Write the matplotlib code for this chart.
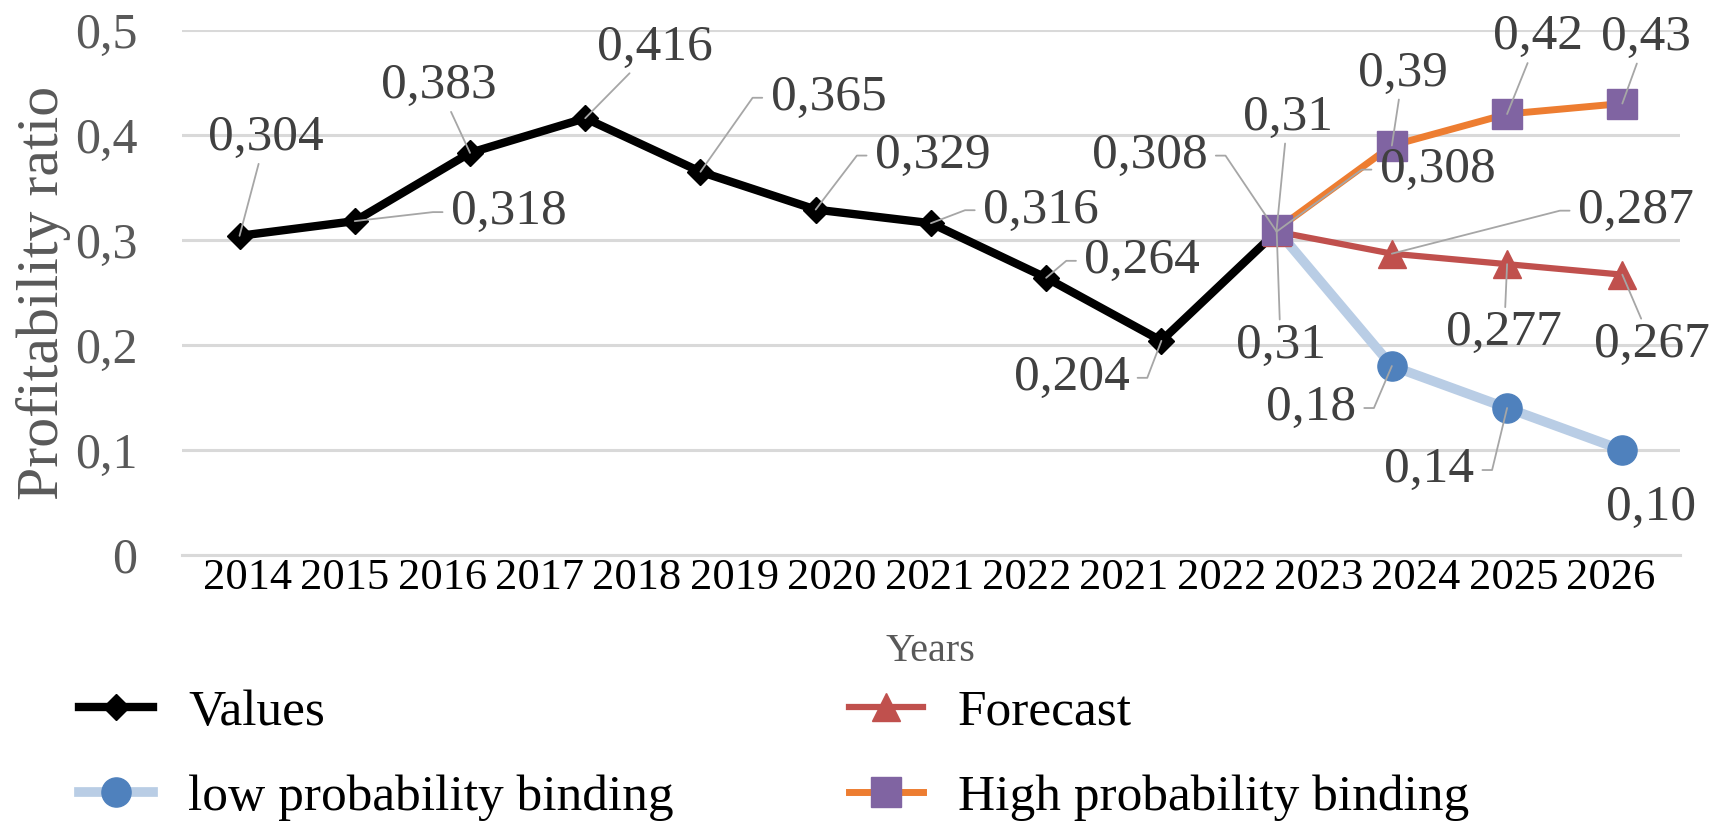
import numpy as np
import matplotlib
matplotlib.use("Agg")
import matplotlib.pyplot as plt
from matplotlib.lines import Line2D
from matplotlib.ticker import FuncFormatter

plt.rcParams['font.family'] = ['Liberation Serif', 'DejaVu Serif']

# category labels printed under the axis (as in the source chart)
tick_labels = ["2014", "2015", "2016", "2017", "2018", "2019", "2020", "2021",
               "2022", "2021", "2022", "2023", "2024", "2025", "2026"]

# series values
values = [0.304, 0.318, 0.383, 0.416, 0.365, 0.329, 0.316, 0.264, 0.204, 0.308]
forecast = [0.308, 0.287, 0.277, 0.267]
low_prob = [0.31, 0.18, 0.14, 0.10]
high_prob = [0.31, 0.39, 0.42, 0.43]

n_cat = 13
x_values = np.arange(len(values))
x_fc = np.arange(len(values) - 1, n_cat)

# label placement: offset (px, image direction) of label centre and leader type
values_lab = [(26, -98, "S"), (154, -9, "L"), (-31, -67, "S"), (70, -71, "S"), (128, -74, "L"),
              (117, -54, "L"), (110, -13, "L"), (96, -17, "L"), (-90, 37, "R"), (-127, -76, "R")]
fc_lab = [(161, -62, "L"), (244, -43, "L"), (-3, 69, "S"), (30, 70, "S")]
low_lab = [(4, 116, "S"), (-81, 42, "R"), (-78, 62, "R"), (29, 58, "N")]
high_lab = [(11, -112, "S"), (11, -72, "S"), (31, -77, "S"), (24, -66, "S")]

C_VAL = "black"
C_FC = "#C0504D"
C_LOW_LINE = "#B9CDE5"
C_LOW_MK = "#4F81BD"
C_HIGH_LINE = "#ED7D31"
C_HIGH_MK = "#8064A2"
C_GRID = "#D9D9D9"
C_LEAD = "#A6A6A6"
C_LAB = "#404040"
C_AX = "#595959"

fig = plt.figure(figsize=(17.13, 8.36), dpi=100)
ax = fig.add_axes([0.1062, 0.3361, 0.8745, 0.628])

ax.plot(x_values, values, color=C_VAL, lw=6, marker="D", ms=13, mfc=C_VAL, mec=C_VAL, zorder=3)
ax.plot(x_fc, low_prob, color=C_LOW_LINE, lw=7, marker="o", ms=21, mfc=C_LOW_MK, mec=C_LOW_MK, zorder=4)
ax.plot(x_fc, forecast, color=C_FC, lw=4.5, marker="^", ms=20, mfc=C_FC, mec=C_FC, zorder=5)
ax.plot(x_fc, high_prob, color=C_HIGH_LINE, lw=5, marker="s", ms=21, mfc=C_HIGH_MK, mec=C_HIGH_MK, zorder=6)


def put_labels(xs, ys, fmt, specs):
    for x, y, (dx, dy, kind) in zip(xs, ys, specs):
        txt = fmt.format(y).replace(".", ",")
        kw = dict(xy=(x, y), xytext=(dx, -dy), textcoords="offset pixels", ha="center", va="center",
                  fontsize=37, color=C_LAB, zorder=10, annotation_clip=False)
        if kind == "S":
            kw["arrowprops"] = dict(arrowstyle="-", color=C_LEAD, lw=1.3, shrinkA=0, shrinkB=0)
        elif kind in ("L", "R"):
            side = 0 if kind == "L" else 1
            ang = 180 if kind == "L" else 0
            kw["arrowprops"] = dict(arrowstyle="-", color=C_LEAD, lw=1.3, shrinkA=6, shrinkB=0,
                                    patchA=None, relpos=(side, 0.5),
                                    connectionstyle=f"arc,angleA={ang},armA=18,angleB=0,armB=0,rad=0")
        ax.annotate(txt, **kw)


put_labels(x_values, values, "{:.3f}", values_lab)
put_labels(x_fc, forecast, "{:.3f}", fc_lab)
put_labels(x_fc, low_prob, "{:.2f}", low_lab)
put_labels(x_fc, high_prob, "{:.2f}", high_lab)

ax.set_xlim(-0.5, n_cat - 0.5)
ax.set_ylim(0, 0.5)
ax.set_yticks(np.arange(0, 0.51, 0.1))
ax.yaxis.set_major_formatter(FuncFormatter(lambda v, p: "0" if abs(v) < 1e-9 else f"{v:.1f}".replace(".", ",")))
ax.set_xticks(np.linspace(0.07, 11.9, len(tick_labels)))
ax.set_xticklabels(tick_labels)
ax.tick_params(axis="y", length=0, pad=32, labelsize=36, labelcolor=C_AX)
ax.tick_params(axis="x", length=0, pad=2, labelsize=32, labelcolor="black")
ax.yaxis.grid(True, color=C_GRID, lw=2.2)
ax.set_axisbelow(True)
for s in ["top", "right", "left"]:
    ax.spines[s].set_visible(False)
ax.spines["bottom"].set_color(C_GRID)
ax.spines["bottom"].set_linewidth(2.2)

ax.set_xlabel("Years", fontsize=29, color=C_AX, labelpad=25)
ax.set_ylabel("Profitability ratio", fontsize=43, color=C_AX, labelpad=3)

handles = [
    Line2D([], [], color=C_VAL, lw=6, marker="D", ms=13, mfc=C_VAL, mec=C_VAL),
    Line2D([], [], color=C_LOW_LINE, lw=7, marker="o", ms=21, mfc=C_LOW_MK, mec=C_LOW_MK),
    Line2D([], [], color=C_FC, lw=4.5, marker="^", ms=20, mfc=C_FC, mec=C_FC),
    Line2D([], [], color=C_HIGH_LINE, lw=5, marker="s", ms=21, mfc=C_HIGH_MK, mec=C_HIGH_MK),
]
names = ["Values", "low probability binding", "Forecast", "High probability binding"]
fig.legend(handles, names, loc="upper left", bbox_to_anchor=(0.046, 0.176), ncol=2, frameon=False,
           fontsize=37, borderpad=0, borderaxespad=0, handlelength=1.44, handletextpad=0.69,
           columnspacing=3.4, labelspacing=0.74)

fig.savefig("out.png", dpi=100)
